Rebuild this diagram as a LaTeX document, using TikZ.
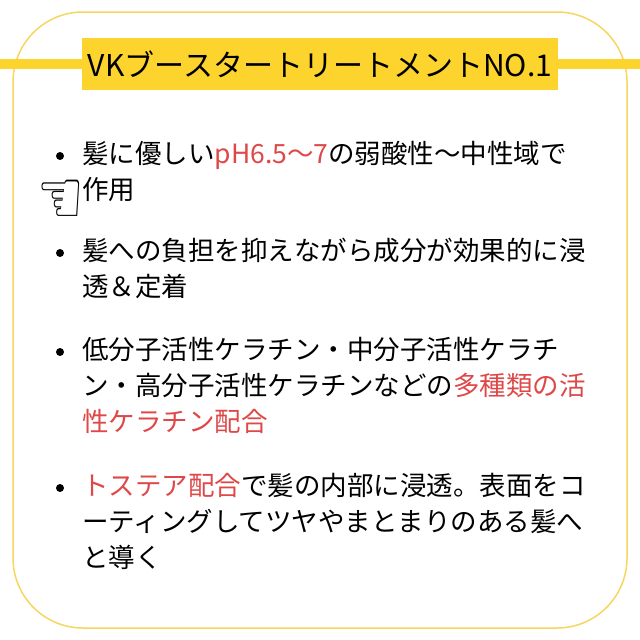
\documentclass[tikz,border=0pt]{standalone}
\usepackage{fontspec}
\setmainfont{Noto Sans CJK JP}
\newfontfamily\symfont{DejaVu Sans}
\usetikzlibrary{positioning}
\definecolor{bandyellow}{RGB}{253,211,46}
\definecolor{frameyellow}{RGB}{246,214,92}
\definecolor{keyred}{RGB}{222,72,72}
\tikzset{
    outerframe/.style = {draw=frameyellow, line width=1.5pt, rounded corners=70pt},
    band/.style = {draw=bandyellow, line width=10pt},
    titlebox/.style = {rectangle, fill=bandyellow, minimum width=476pt, minimum height=52pt, inner sep=0pt, font=\fontsize{30}{36}\selectfont},
    bulletdot/.style = {circle, fill, inner sep=0pt, minimum size=8pt},
    entry/.style = {anchor=north west, align=left, inner sep=0pt, font=\fontsize{26.5}{36}\selectfont},
    hand/.style = {inner sep=0pt, transform shape, yscale=1.5, font=\symfont\fontsize{52}{52}\selectfont}}
\begin{document}
\begin{tikzpicture}[x=1pt, y=-1pt]
    \useasboundingbox (0,0) rectangle (640,640);
    \draw[outerframe] (13,12) rectangle (627,628);
    \node[titlebox] (title) at (320,64) {VKブースタートリートメントNO.1};
    \coordinate (bandL) at (0,64);
    \coordinate (bandR) at (640,64);
    \draw[band] (bandL) -- (title.west) (title.east) -- (bandR);
    % bullets
    \node[bulletdot] (dot1) at (60,156) {};
    \node[bulletdot] (dot2) at (60,253) {};
    \node[bulletdot] (dot3) at (60,352) {};
    \node[bulletdot] (dot4) at (60,488) {};
    % entries
    \node[entry] (entry1) at (82,141) {髪に優しい\textcolor{keyred}{pH6.5〜7}の弱酸性〜中性域で\\作用};
    \node[entry] (entry2) at (82,238) {髪への負担を抑えながら成分が効果的に浸\\透＆定着};
    \node[entry] (entry3) at (82,337) {低分子活性ケラチン・中分子活性ケラチ\\ン・高分子活性ケラチンなどの\textcolor{keyred}{多種類の活}\\\textcolor{keyred}{性ケラチン配合}};
    \node[entry] (entry4) at (82,473) {\textcolor{keyred}{トステア配合}で髪の内部に浸透。表面をコ\\ーティングしてツヤやまとまりのある髪へ\\と導く};
    \node[hand] (pointer) at (61,202) {☜};
\end{tikzpicture}
\end{document}
